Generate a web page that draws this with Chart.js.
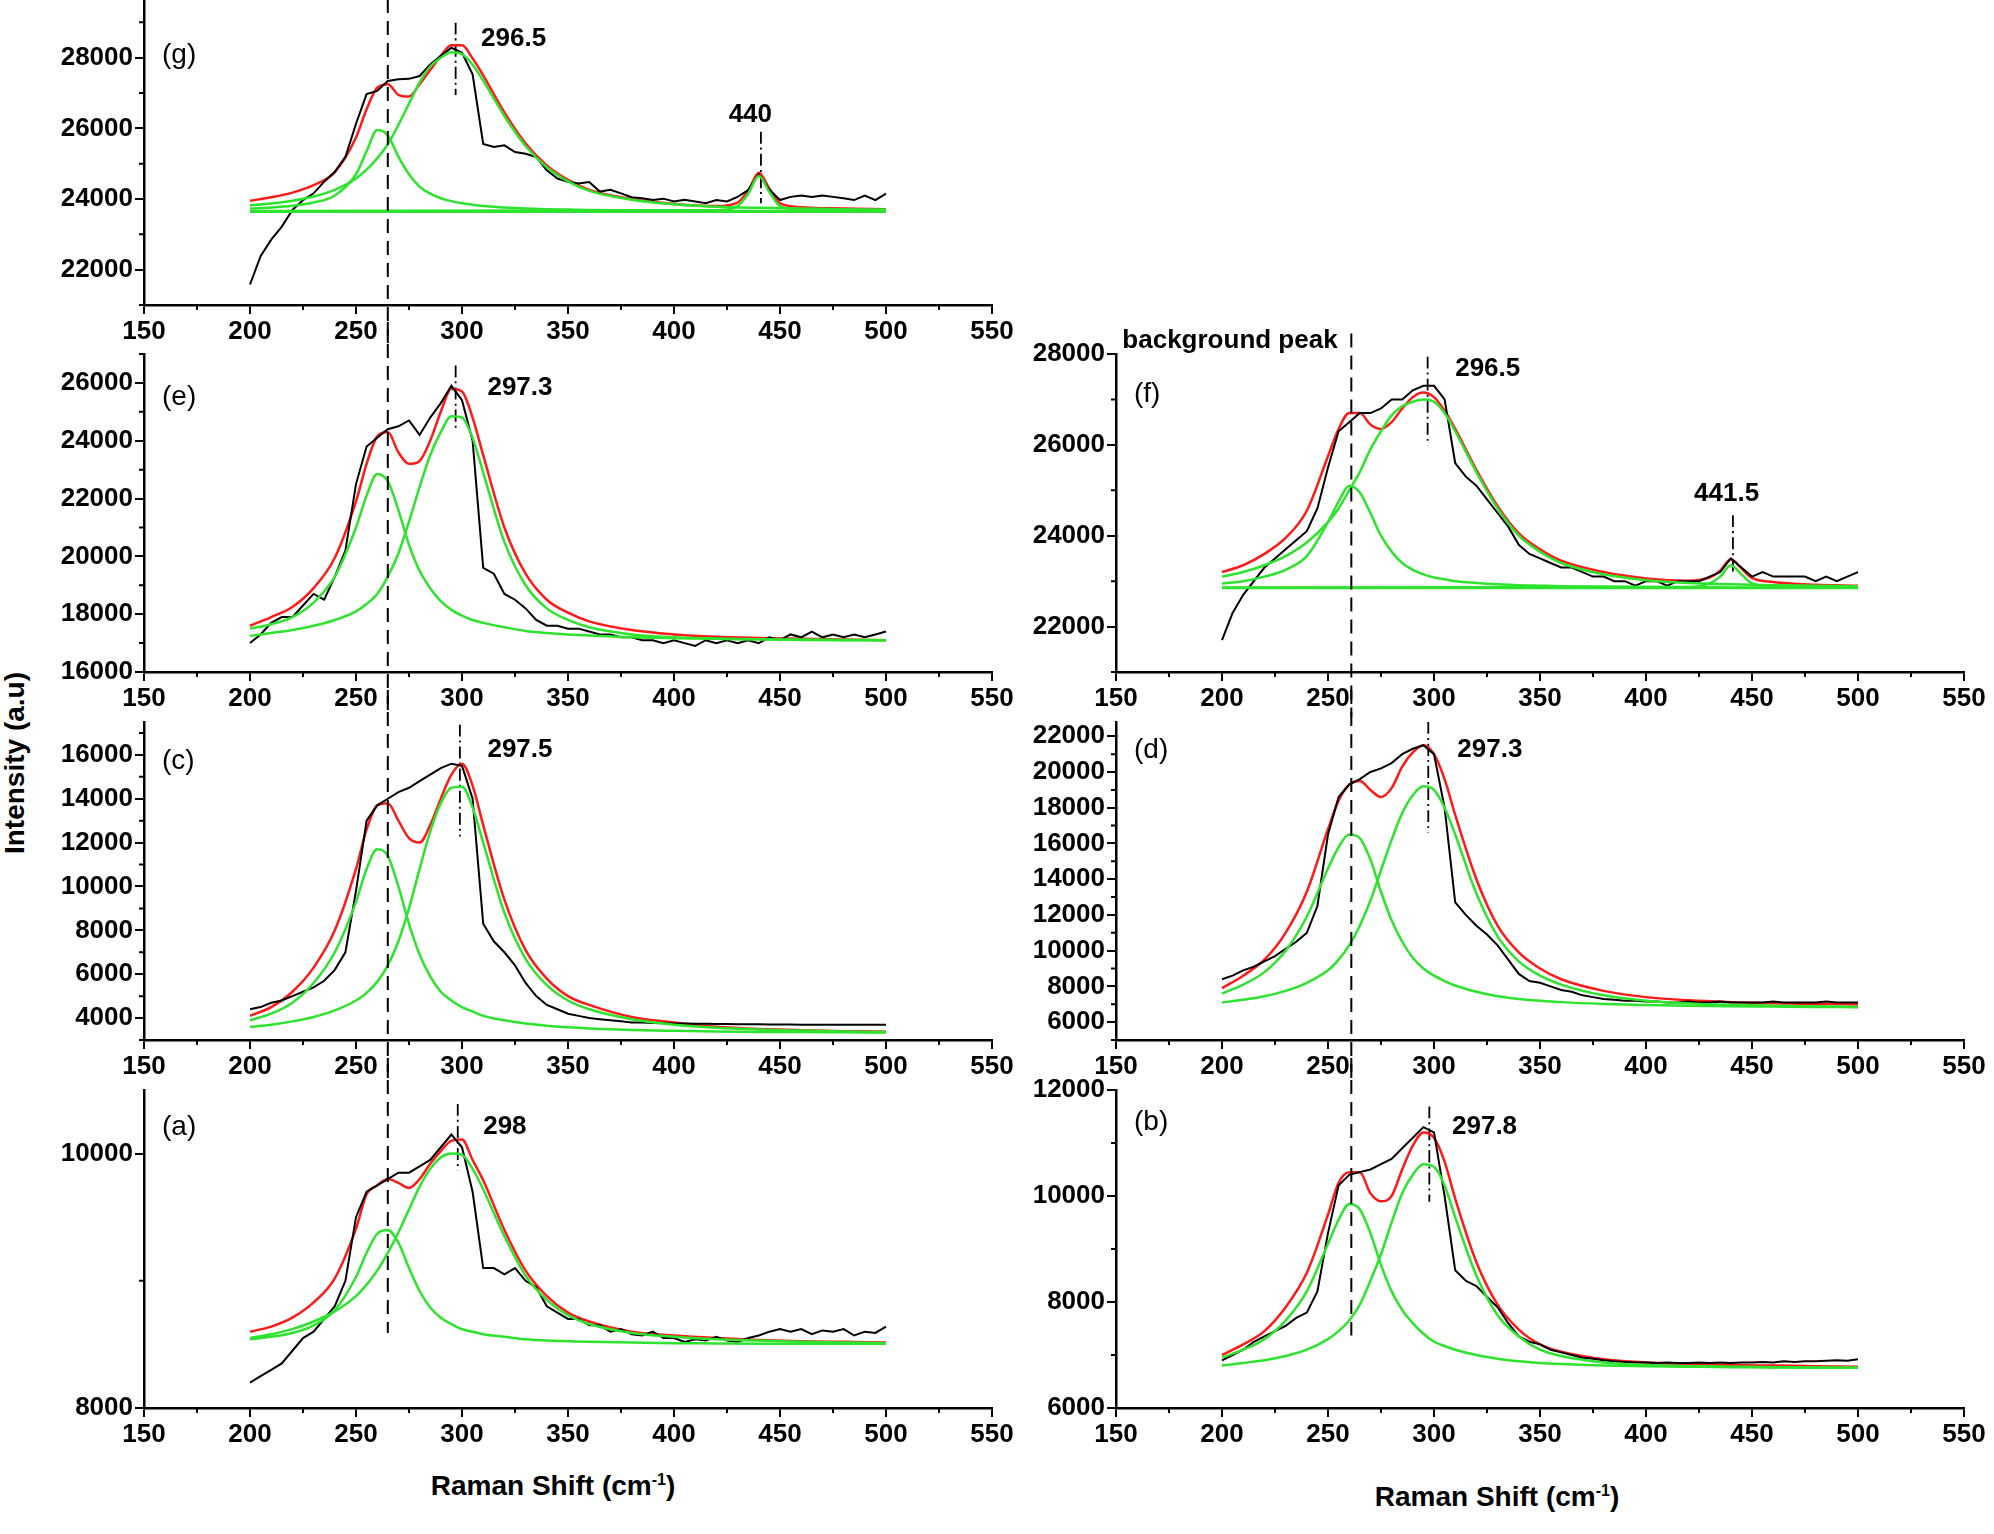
<!DOCTYPE html>
<html>
<head>
<meta charset="utf-8">
<script src="https://cdn.jsdelivr.net/npm/chart.js@4.4.1/dist/chart.umd.min.js"></script>
<style>
  html, body { margin: 0; padding: 0; background: #fff; }
  body { width: 1994px; height: 1534px; position: relative; overflow: hidden; font-family: "Liberation Sans", Arial, sans-serif; }
  .panel { position: absolute; }
  .ytitle { position: absolute; left: 15px; top: 763px; transform: translate(-50%, -50%) rotate(-90deg); font: bold 28px "Liberation Sans", Arial, sans-serif; white-space: nowrap; }
  .xtitle { position: absolute; transform: translate(-50%, -50%); font: bold 28px "Liberation Sans", Arial, sans-serif; white-space: nowrap; }
  .xtitle sup { font-size: 16px; }
</style>
</head>
<body>
<div class="ytitle">Intensity (a.u)</div>
<div class="xtitle" style="left:553px;top:1486px">Raman Shift (cm<sup>-1</sup>)</div>
<div class="xtitle" style="left:1497px;top:1497px">Raman Shift (cm<sup>-1</sup>)</div>
<script>
// ---------- 공통 축 / 샘플링 위치 ----------
const X_TICKS = [150, 200, 250, 300, 350, 400, 450, 500, 550];
const RAW_X = [200,205,210,215,220,225,230,235,240,245,250,255,260,265,270,275,280,285,290,295,300,
  305,310,315,320,325,330,335,340,345,350,355,360,365,370,375,380,385,390,395,400,
  405,410,415,420,425,430,435,440,445,450,455,460,465,470,475,480,485,490,495,500];
const FIT_X = [200,210,220,230,240,250,255,260,265,270,275,280,285,290,295,300,305,310,320,330,340,350,360,380,400,420,440,460,480,500];
const FIT_X_P3 = [200,210,220,230,240,250,255,260,265,270,275,280,285,290,295,300,305,310,320,330,340,350,360,380,400,420,430,435,440,445,450,460,480,500];
const P3_X = [200,420,430,435,440,445,450,460,500];
const BASE_X = [200, 500];

// ---------- (g) ----------
const G_YTICKS = [22000, 24000, 26000, 28000];
const G_RAW = [21580,22380,22850,23220,23690,23970,24160,24490,24770,25190,26130,26970,27060,27340,27390,27400,27480,27810,28050,28280,28140,
  27530,25560,25470,25520,25330,25280,25190,24810,24580,24490,24440,24480,24210,24260,24160,24050,24020,23970,24010,23930,
  23980,23930,23880,23970,23930,24060,24250,24700,24260,23970,24060,24100,24060,24100,24060,24020,23970,24100,23970,24150];
const G_P1 = [23730,23760,23810,23900,24100,24700,25350,25950,25800,25200,24700,24350,24150,24020,23940,23880,23840,23800,23760,23730,23710,23700,23690,23680,23670,23665,23660,23660,23660,23660];
const G_P2 = [23820,23870,23950,24070,24260,24580,24830,25150,25550,26100,26700,27300,27750,28000,28150,28100,27800,27350,26350,25500,24900,24500,24230,23980,23850,23780,23750,23730,23710,23700];
const G_P3 = [23660,23680,23800,24150,24650,24200,23800,23700,23665];
const G_BASE = [23640, 23640];
const G_FIT = [23950,24050,24180,24390,24760,25740,26540,27150,27250,26950,26900,27250,27650,28050,28350,28350,27980,27500,26450,25570,24950,24540,24260,24000,23860,23800,23900,24240,24740,24290,23880,23770,23730,23710];

// ---------- (e) ----------
const E_YTICKS = [16000, 18000, 20000, 22000, 24000, 26000];
const E_RAW = [17000,17300,17700,17900,17900,18300,18700,18500,19300,20200,22500,23800,24100,24400,24500,24700,24200,24800,25300,25900,25400,
  24000,19600,19400,18700,18500,18200,17800,17600,17600,17500,17500,17400,17300,17300,17200,17200,17100,17100,17000,17100,
  17000,16900,17100,17000,17100,17000,17100,17000,17200,17100,17300,17200,17400,17200,17300,17200,17300,17200,17300,17400];
const E_P1 = [17500,17650,17900,18400,19300,21000,22100,22850,22600,21600,20400,19500,18900,18450,18150,17950,17800,17700,17550,17420,17350,17300,17260,17200,17170,17150,17130,17120,17110,17100];
const E_P2 = [17250,17350,17450,17600,17800,18100,18350,18700,19300,20100,21200,22400,23500,24300,24850,24800,24100,22900,20500,19000,18200,17800,17550,17300,17200,17150,17130,17110,17100,17100];
const E_FIT = [17600,17900,18250,18900,19950,21900,23200,24150,24300,23600,23200,23300,24000,25000,25800,25700,24800,23500,21000,19400,18500,18050,17750,17450,17300,17220,17180,17150,17120,17100];

// ---------- (f) ----------
const F_YTICKS = [22000, 24000, 26000, 28000];
const F_RAW = [21700,22300,22700,23000,23300,23500,23700,23900,24100,24600,25500,26300,26500,26700,26700,26800,27000,27000,27200,27300,27300,
  27000,25600,25300,25100,24800,24500,24200,23800,23600,23500,23400,23300,23300,23200,23100,23100,23000,23000,22900,23000,
  23000,22900,23000,23000,23000,23100,23200,23500,23300,23100,23200,23100,23100,23100,23100,23000,23100,23000,23100,23200];
const F_P1 = [22950,23000,23100,23250,23550,24300,24750,25100,24950,24500,24000,23650,23400,23250,23150,23080,23040,23000,22960,22930,22910,22900,22890,22880,22870,22865,22860,22860,22860,22860];
const F_P2 = [23100,23200,23350,23550,23850,24300,24600,25000,25400,25900,26300,26650,26850,26950,27000,26950,26700,26300,25400,24600,24000,23650,23400,23150,23020,22960,22930,22910,22900,22890];
const F_P3 = [22860,22870,22950,23100,23350,23150,22950,22880,22860];
const F_BASE = [22850, 22850];
const F_FIT = [23200,23350,23600,23950,24550,25750,26350,26700,26700,26450,26350,26500,26800,27050,27150,27050,26750,26350,25450,24650,24050,23700,23450,23200,23060,23010,23080,23230,23480,23280,23070,22980,22920,22900];

// ---------- (c) ----------
const C_YTICKS = [4000, 6000, 8000, 10000, 12000, 14000, 16000];
const C_RAW = [4400,4500,4700,4800,5000,5200,5400,5700,6200,7000,9800,13000,13700,14000,14300,14500,14800,15100,15400,15600,15500,
  14000,8300,7500,7000,6400,5600,5000,4600,4400,4200,4100,4000,3950,3900,3850,3800,3800,3780,3760,3750,
  3750,3740,3740,3730,3730,3720,3720,3720,3710,3710,3710,3700,3700,3700,3700,3700,3700,3700,3700,3700];
const C_P1 = [3900,4200,4700,5600,7000,9300,10800,11700,11400,10000,8300,6900,5900,5200,4800,4500,4300,4100,3900,3750,3650,3580,3530,3460,3420,3390,3370,3360,3350,3340];
const C_P2 = [3600,3700,3850,4050,4350,4800,5150,5650,6400,7500,9000,10800,12500,13800,14500,14550,13600,12000,8800,6700,5500,4800,4400,3950,3700,3560,3480,3430,3390,3360];
const C_FIT = [4100,4500,5200,6300,8000,10800,12600,13700,13800,13000,12200,12000,12800,14000,15100,15600,14600,12800,9400,7100,5800,5000,4600,4050,3800,3600,3500,3450,3400,3380];

// ---------- (d) ----------
const D_YTICKS = [6000, 8000, 10000, 12000, 14000, 16000, 18000, 20000, 22000];
const D_RAW = [8400,8600,8900,9100,9400,9700,10100,10500,11000,12500,16500,18600,19300,19600,20000,20200,20500,21000,21300,21500,21000,
  18000,12700,12000,11400,10900,10300,9500,8700,8300,8200,8000,7800,7700,7500,7400,7300,7250,7200,7200,7150,
  7150,7100,7100,7150,7100,7100,7150,7100,7100,7100,7100,7150,7100,7100,7100,7100,7150,7100,7100,7100];
const D_P1 = [7600,8100,8800,10000,11900,14600,15800,16500,16300,15100,13300,11700,10500,9600,9000,8600,8300,8050,7700,7450,7300,7200,7120,7020,6960,6920,6890,6870,6850,6840];
const D_P2 = [7100,7250,7450,7750,8200,8900,9500,10300,11400,12800,14500,16200,17700,18700,19200,19000,18000,16500,13200,10800,9400,8600,8100,7500,7200,7050,6970,6920,6880,6850];
const D_FIT = [7900,8600,9500,11000,13300,16800,18400,19300,19500,19000,18600,19100,20300,21100,21500,21000,19600,17600,14000,11400,9900,9000,8400,7750,7400,7220,7120,7060,7020,6990];

// ---------- (a) ----------
const A_YTICKS = [8000, 10000];
const A_RAW = [8200,8250,8300,8350,8450,8550,8600,8700,8800,9000,9500,9700,9750,9800,9850,9850,9900,9950,10050,10150,10050,
  9700,9100,9100,9050,9100,9000,8950,8800,8750,8700,8700,8650,8650,8600,8620,8580,8570,8600,8550,8550,
  8520,8540,8530,8560,8530,8520,8550,8570,8600,8620,8600,8620,8580,8610,8600,8620,8570,8600,8590,8640];
const A_P1 = [8540,8560,8590,8650,8770,9030,9220,9370,9400,9300,9100,8920,8790,8710,8660,8620,8600,8580,8560,8540,8530,8525,8520,8515,8510,8508,8506,8505,8505,8505];
const A_P2 = [8550,8580,8620,8680,8760,8880,8970,9080,9220,9380,9560,9740,9880,9970,10000,9990,9880,9720,9350,9040,8850,8730,8660,8590,8560,8540,8530,8520,8515,8510];
const A_FIT = [8600,8640,8710,8830,9020,9410,9680,9750,9800,9770,9730,9800,9920,10020,10100,10110,9950,9790,9400,9080,8880,8750,8680,8600,8570,8550,8535,8525,8520,8515];

// ---------- (b) ----------
const B_YTICKS = [6000, 8000, 10000, 12000];
const B_RAW = [6900,7000,7100,7250,7350,7450,7550,7700,7800,8200,9300,10200,10400,10450,10500,10600,10700,10900,11100,11300,11200,
  10000,8600,8400,8300,8100,7900,7600,7350,7250,7200,7100,7050,7000,6950,6930,6900,6880,6870,6860,6860,
  6850,6860,6850,6850,6860,6850,6860,6850,6860,6860,6870,6860,6880,6870,6880,6880,6890,6900,6890,6920];
const B_P1 = [6950,7100,7300,7650,8200,9100,9550,9850,9750,9300,8700,8200,7850,7600,7400,7250,7170,7100,7000,6930,6880,6850,6830,6800,6790,6780,6770,6765,6760,6760];
const B_P2 = [6800,6850,6900,6980,7100,7300,7450,7650,7950,8400,8900,9500,10050,10400,10600,10550,10200,9600,8500,7750,7350,7100,6980,6860,6810,6790,6780,6770,6765,6760];
const B_FIT = [7000,7200,7450,7900,8550,9650,10250,10450,10450,10050,9900,10000,10500,10950,11200,11100,10650,9950,8750,7950,7480,7200,7060,6920,6860,6830,6810,6800,6790,6780];

// ---------- 피크 표시선 [x, y위, y아래] 와 라벨 ----------
const PEAK_MARKS = {
  g: [[297, 28990, 26940], [441, 25900, 23880]],
  e: [[297, 26600, 24370]],
  f: [[297, 27940, 25990], [441, 24450, 23180]],
  c: [[299, 17380, 12280]],
  d: [[297.3, 22800, 16600]],
  a: [[298, 10390, 9870]],
  b: [[297.8, 11690, 9890]],
};
const PEAK_TEXT = {
  g: [['296.5', 309, 28540, 'left'], ['440', 436, 26380, 'center']],
  e: [['297.3', 312, 25820, 'left']],
  f: [['296.5', 310, 27670, 'left'], ['441.5', 438, 24920, 'center'], ['background peak', 153, 28290, 'left']],
  c: [['297.5', 312, 16220, 'left']],
  d: [['297.3', 311, 21240, 'left']],
  a: [['298', 310, 10210, 'left']],
  b: [['297.8', 308.5, 11300, 'left']],
};

const GREEN = '#2ee32e';
const PAD_TOP = 32;
const pts = (xs, ys) => xs.map((x, i) => ({ x, y: ys[i] }));

// plotTop: 그림 영역 윗변 (px)
const PANELS = [
  { key: 'g', left: 34, plotTop: -13, min: 21000, max: 30000, yTicks: G_YTICKS, raw: G_RAW, fitX: FIT_X_P3, fit: G_FIT,
    peaks: [G_P1, G_P2], p3: G_P3, base: G_BASE, guide: { x: 265, from: null, to: null }, tag: '(g)', tagDy: 68 },
  { key: 'e', left: 34, plotTop: 354, min: 16000, max: 27000, yTicks: E_YTICKS, raw: E_RAW, fitX: FIT_X, fit: E_FIT,
    peaks: [E_P1, E_P2], guide: { x: 265, from: null, to: null }, tag: '(e)', tagDy: 43 },
  { key: 'f', left: 1006, plotTop: 354, min: 21000, max: 28000, yTicks: F_YTICKS, raw: F_RAW, fitX: FIT_X_P3, fit: F_FIT,
    peaks: [F_P1, F_P2], p3: F_P3, base: F_BASE, guide: { x: 261, from: 28450, to: null }, tag: '(f)', tagDy: 40 },
  { key: 'c', left: 34, plotTop: 722, min: 3000, max: 17500, yTicks: C_YTICKS, raw: C_RAW, fitX: FIT_X, fit: C_FIT,
    peaks: [C_P1, C_P2], guide: { x: 265, from: null, to: null }, tag: '(c)', tagDy: 39 },
  { key: 'd', left: 1006, plotTop: 722, min: 5000, max: 22800, yTicks: D_YTICKS, raw: D_RAW, fitX: FIT_X, fit: D_FIT,
    peaks: [D_P1, D_P2], guide: { x: 261, from: null, to: null }, tag: '(d)', tagDy: 28 },
  { key: 'a', left: 34, plotTop: 1090, min: 8000, max: 10500, yTicks: A_YTICKS, raw: A_RAW, fitX: FIT_X, fit: A_FIT,
    peaks: [A_P1, A_P2], guide: { x: 265, from: null, to: 8590 }, tag: '(a)', tagDy: 37 },
  { key: 'b', left: 1006, plotTop: 1090, min: 6000, max: 12000, yTicks: B_YTICKS, raw: B_RAW, fitX: FIT_X, fit: B_FIT,
    peaks: [B_P1, B_P2], guide: { x: 261, from: null, to: 7370 }, tag: '(b)', tagDy: 32 },
];

// ---------- 보조 눈금, 배경 피크 점선, 라벨 ----------
const decor = {
  id: 'decor',
  afterDatasetsDraw(chart, args, opts) {
    const p = opts.panel;
    const { ctx, chartArea: a, scales: { x, y } } = chart;
    ctx.save();
    ctx.strokeStyle = '#000';
    ctx.lineWidth = 2;
    ctx.beginPath();
    for (let i = 0; i < X_TICKS.length - 1; i++) {
      const px = x.getPixelForValue((X_TICKS[i] + X_TICKS[i + 1]) / 2);
      ctx.moveTo(px, a.bottom); ctx.lineTo(px, a.bottom + 5);
    }
    const step = p.yTicks.length > 1 ? p.yTicks[1] - p.yTicks[0] : 2000;
    for (let v = p.yTicks[0] - step / 2; v <= p.max; v += step) {
      if (v < p.min) continue;
      const py = y.getPixelForValue(v);
      ctx.moveTo(a.left, py); ctx.lineTo(a.left - 5, py);
    }
    ctx.stroke();

    const g = p.guide;
    const gx = x.getPixelForValue(g.x);
    const y0 = g.from == null ? 0 : y.getPixelForValue(g.from);
    const y1 = g.to == null ? chart.height : y.getPixelForValue(g.to);
    ctx.setLineDash([14, 8]);
    ctx.beginPath(); ctx.moveTo(gx, y0); ctx.lineTo(gx, y1); ctx.stroke();
    ctx.setLineDash([]);

    ctx.fillStyle = '#000';
    ctx.textBaseline = 'middle';
    ctx.font = '28px "Liberation Sans", Arial, sans-serif';
    ctx.textAlign = 'left';
    ctx.fillText(p.tag, a.left + 18, a.top + p.tagDy);
    ctx.font = 'bold 26px "Liberation Sans", Arial, sans-serif';
    (PEAK_TEXT[p.key] || []).forEach(([t, vx, vy, al]) => {
      ctx.textAlign = al;
      ctx.fillText(t, x.getPixelForValue(vx), y.getPixelForValue(vy));
    });
    ctx.restore();
  },
};

function buildDatasets(p) {
  const line = (data, color, width, extra) => Object.assign({
    data, borderColor: color, borderWidth: width, pointRadius: 0, fill: false,
    cubicInterpolationMode: 'monotone', clip: false,
  }, extra || {});
  const ds = [];
  if (p.base) ds.push(line(pts(BASE_X, p.base), GREEN, 2.5));
  p.peaks.forEach((pk) => ds.push(line(pts(FIT_X, pk), GREEN, 2.5)));
  if (p.p3) ds.push(line(pts(P3_X, p.p3), GREEN, 2.5));
  ds.push(line(pts(RAW_X, p.raw), '#000', 2, { cubicInterpolationMode: 'default', tension: 0 }));
  ds.push(line(pts(p.fitX, p.fit), '#ff1a1a', 2.5));
  PEAK_MARKS[p.key].forEach(([mx, ya, yb]) => {
    ds.push(line([{ x: mx, y: ya }, { x: mx, y: yb }], '#000', 1.8, { borderDash: [12, 4, 2, 4], tension: 0 }));
  });
  return ds;
}

const tickFont = { family: '"Liberation Sans", Arial, sans-serif', size: 26, weight: 'bold' };

PANELS.forEach((p) => {
  const wrap = document.createElement('div');
  wrap.className = 'panel';
  wrap.style.left = p.left + 'px';
  wrap.style.top = (p.plotTop - PAD_TOP) + 'px';
  const cv = document.createElement('canvas');
  cv.width = 988; cv.height = PAD_TOP + 318 + 45;
  wrap.appendChild(cv);
  document.body.appendChild(wrap);

  new Chart(cv, {
    type: 'line',
    data: { datasets: buildDatasets(p) },
    plugins: [decor],
    options: {
      responsive: false,
      animation: false,
      devicePixelRatio: 1,
      layout: { padding: { top: PAD_TOP, right: 30, left: 0, bottom: 0 } },
      plugins: { legend: { display: false }, tooltip: { enabled: false }, decor: { panel: p } },
      scales: {
        x: {
          type: 'linear', min: 150, max: 550,
          afterBuildTicks: (s) => { s.ticks = X_TICKS.map((v) => ({ value: v })); },
          afterFit: (s) => { s.height = 45; },
          ticks: { color: '#000', font: tickFont, padding: 2, maxRotation: 0, callback: (v) => String(v) },
          grid: { drawOnChartArea: false, drawTicks: true, tickLength: 9, color: '#000', lineWidth: 2 },
          border: { display: true, color: '#000', width: 2.5 },
        },
        y: {
          type: 'linear', min: p.min, max: p.max,
          afterBuildTicks: (s) => { s.ticks = p.yTicks.map((v) => ({ value: v })); },
          afterFit: (s) => { s.width = 110; },
          ticks: { color: '#000', font: tickFont, padding: 2, callback: (v) => String(v) },
          grid: { drawOnChartArea: false, drawTicks: true, tickLength: 9, color: '#000', lineWidth: 2 },
          border: { display: true, color: '#000', width: 2.5 },
        },
      },
    },
  });
});
</script>
</body>
</html>
